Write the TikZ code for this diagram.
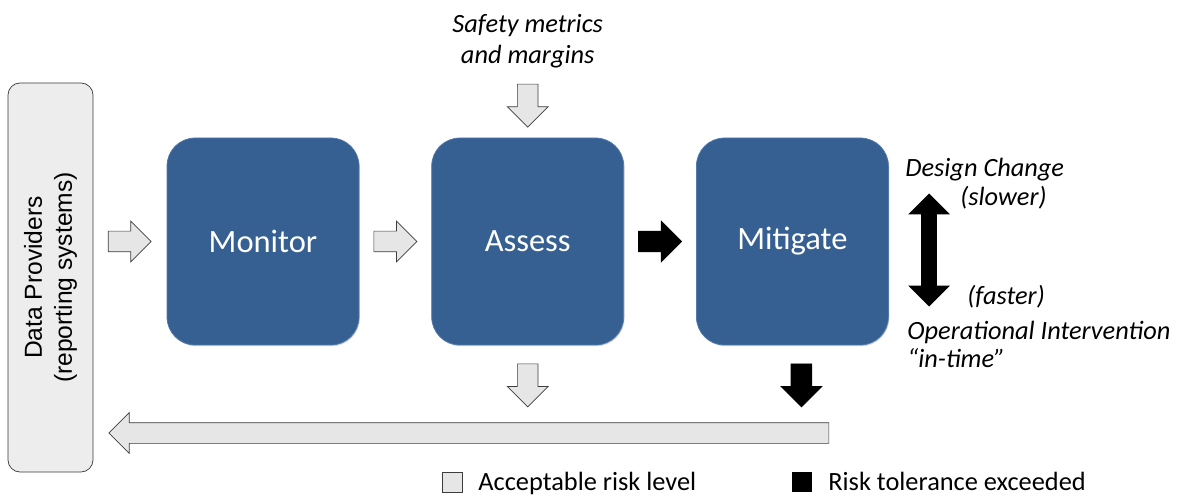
\documentclass[tikz,border=0pt]{standalone}
\usepackage{fontspec}
\setmainfont{Carlito}
\newfontfamily\arialfont{Liberation Sans}
\usepackage{tikz}
\usetikzlibrary{shapes.arrows,positioning,calc,shadows}
\definecolor{procblue}{RGB}{55,96,146}
\definecolor{procedge}{RGB}{82,122,172}
\definecolor{arrgray}{RGB}{230,230,230}
\definecolor{edgegray}{RGB}{60,60,60}
\definecolor{provgray}{RGB}{237,237,237}

\begin{document}
\begin{tikzpicture}[
  proc/.style={rectangle,rounded corners=0.56cm,fill=procblue,draw=procedge,
               minimum width=3.84cm,minimum height=4.14cm,text=white,
               font=\fontsize{18.5}{22}\selectfont,
               drop shadow={shadow xshift=0.5pt,shadow yshift=-0.7pt,opacity=0.3}},
  prov/.style={rectangle,rounded corners=0.24cm,fill=provgray,draw=edgegray,
               align=center,minimum width=7.78cm,minimum height=1.7cm,
               font=\arialfont\fontsize{14}{17}\selectfont},
  blk/.style={single arrow,single arrow head extend=0.2cm,inner xsep=0pt,
              inner ysep=0.2cm,minimum height=0.86cm,anchor=tip},
  ok/.style={blk,fill=arrgray,draw=edgegray},
  bad/.style={blk,fill=black,draw=black},
  lbl/.style={font=\fontsize{15}{17.6}\selectfont\itshape,inner xsep=0pt},
  key/.style={rectangle,minimum size=0.4cm,inner sep=0pt},
  keytxt/.style={font=\fontsize{15}{18}\selectfont,anchor=base west,inner xsep=0pt}
]
\useasboundingbox (0,0) rectangle (23.68,9.96);

% Prozesskette
\node[proc] (mon) at (5.26,5.13) {Monitor};
\node[proc,right=1.44cm of mon] (asm) {Assess};
\node[proc,right=1.44cm of asm] (mit) {Mitigate};

% Datenquelle (gedreht: prov.south liegt rechts)
\node[prov,rotate=90] (prov) at (1.01,4.41) {Data Providers\\(reporting systems)};

% Blockpfeile zwischen den Stufen (Spitze vor dem naechsten Kasten)
\node[ok] (in1) at ([xshift=-0.3cm]mon.west) {};
\node[ok] (in2) at ([xshift=-0.28cm]asm.west) {};
\node[bad] (in3) at ([xshift=-0.28cm]mit.west) {};

% Kennzahlen von oben
\node[lbl,align=center] (metrics) at ([yshift=1.92cm]asm.north) {Safety metrics\\and margins};
\node[ok,rotate=-90] (down0) at ([yshift=0.2cm]asm.north) {};

% Rueckmeldung
\node[ok,rotate=-90] (down1) at ([yshift=-1.24cm]asm.south) {};
\node[bad,rotate=-90] (down2) at ([xshift=0.18cm,yshift=-1.24cm]mit.south) {};
\node[ok,rotate=180,minimum height=14.4cm] (back) at ([xshift=0.3cm]prov.south |- 0,1.30) {};

% Massnahmen
\node[double arrow,fill=black,double arrow head extend=0.26cm,inner xsep=0pt,
      inner ysep=0.15cm,minimum height=2.26cm,rotate=90] (speed) at (18.58,4.96) {};
\node[lbl,anchor=base west] (slow) at (18.10,6.42) {Design Change};
\node[lbl,anchor=base west] (slowx) at (19.20,5.84) {(slower)};
\node[lbl,anchor=base west] (fastx) at (19.34,3.86) {(faster)};
\node[lbl,anchor=base west] (fast) at (18.14,3.16) {Operational Intervention};
\node[lbl,anchor=base west] (intime) at (18.14,2.62) {“in-time”};

% Legende
\node[key,fill=arrgray,draw=edgegray] (k1) at (9.05,0.32) {};
\node[keytxt] (t1) at (9.56,0.16) {Acceptable risk level};
\node[key,fill=black] (k2) at (16.03,0.32) {};
\node[keytxt] (t2) at (16.56,0.16) {Risk tolerance exceeded};
\end{tikzpicture}
\end{document}
